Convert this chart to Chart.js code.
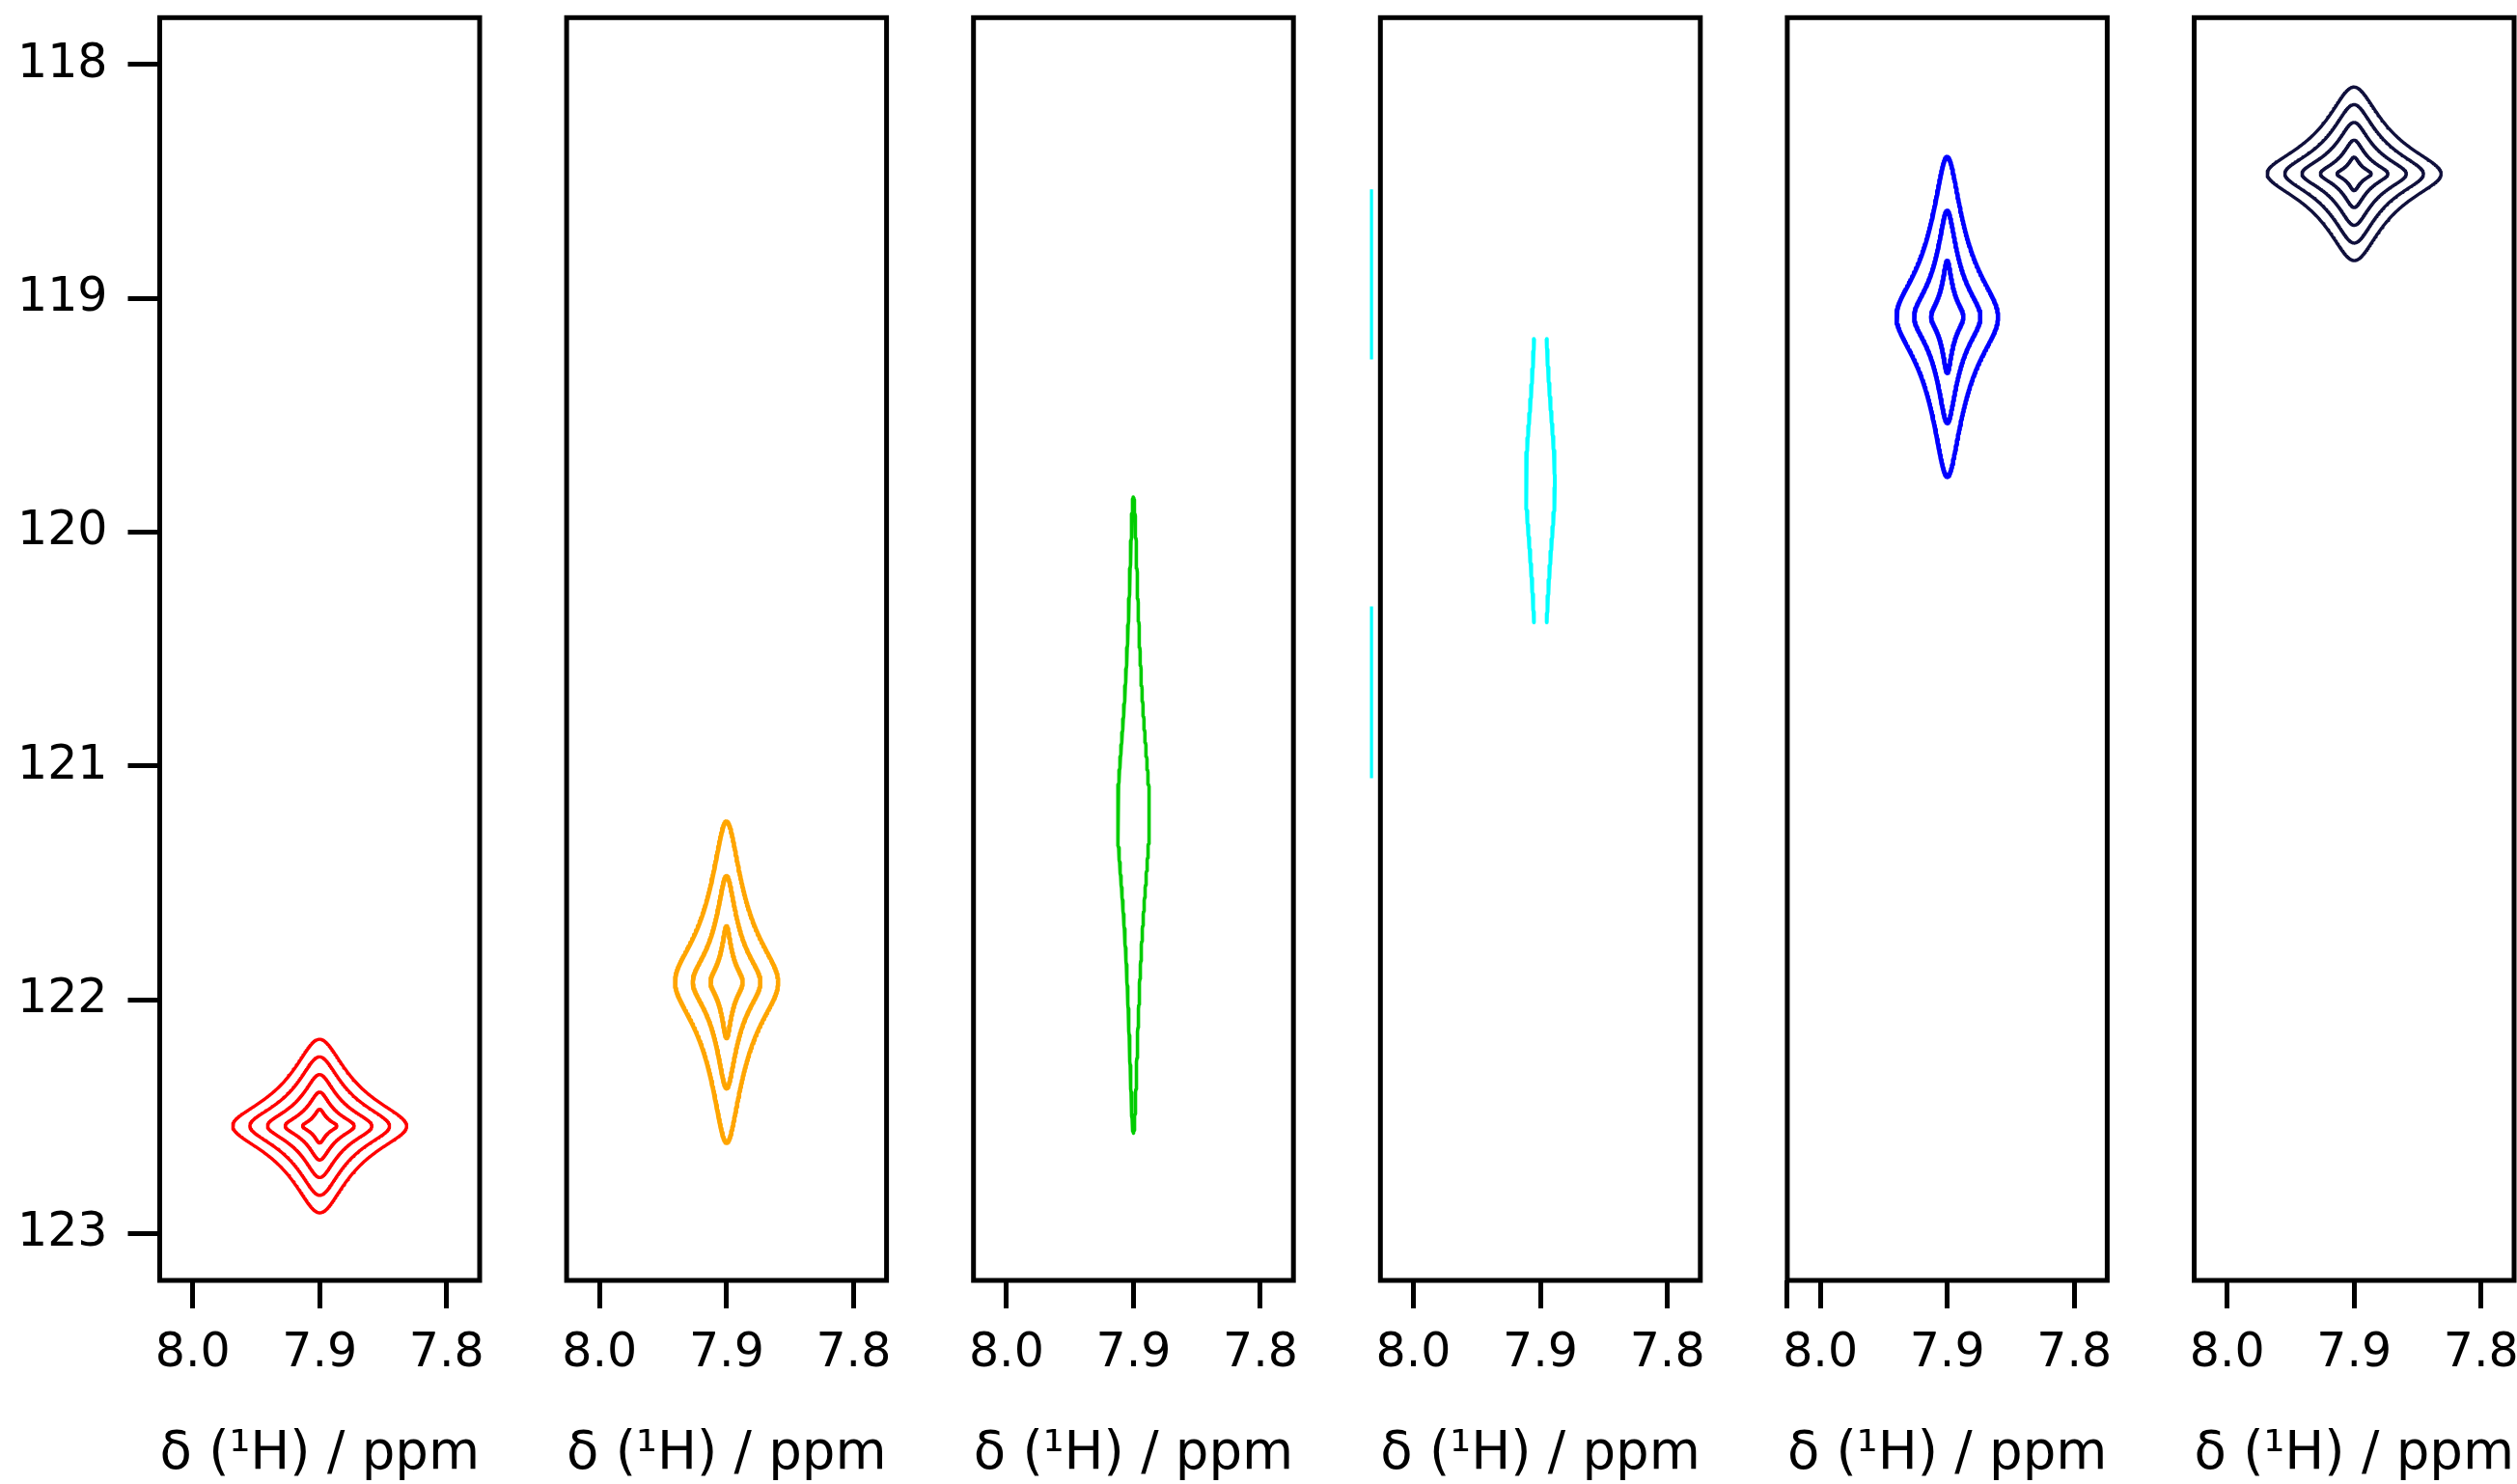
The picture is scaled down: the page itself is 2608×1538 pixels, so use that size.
<!DOCTYPE html>
<html>
<head>
<meta charset="utf-8">
<script src="https://cdn.jsdelivr.net/npm/chart.js@4/dist/chart.umd.min.js"></script>
<style>
html, body { margin: 0; padding: 0; background: #ffffff; overflow: hidden; width: 2608px; height: 1538px; }
canvas { position: absolute; top: 0; }
</style>
</head>
<body>
<script>
// ---------------- data ----------------
const hTickValues = [8.0, 7.9, 7.8];                 // 1H axis ticks (ppm)
const nTickValues = [118, 119, 120, 121, 122, 123];   // 15N axis ticks (ppm)
const hLimits = [7.774, 8.026];                       // 1H window (reversed axis)
const nLimits = [117.8, 123.2];                       // 15N window (reversed axis)

// one peak per panel
const peakH = [7.9, 7.9, 7.9, 7.9, 7.9, 7.9];
const peakN = [122.54, 121.925, 121.21, 119.78, 119.08, 118.468];
// half extents (ppm) of each drawn contour, outermost first
const contourHalfH = [
  [0.0685, 0.0550, 0.0411, 0.0272, 0.0135],
  [0.0406, 0.0266, 0.0127],
  [0.0125],
  [0.0114],
  [0.0400, 0.0261, 0.0127],
  [0.0685, 0.0546, 0.0411, 0.0266, 0.0135]
];
const contourHalfN = [
  [0.371, 0.296, 0.220, 0.145, 0.072],
  [0.687, 0.454, 0.239],
  [1.36],
  [1.24],
  [0.684, 0.454, 0.240],
  [0.371, 0.296, 0.220, 0.144, 0.0715]
];
// Lorentzian-product contour sharpness per peak
const lineshapeK = [14, 17, 14, 14, 17, 14];
// 15N half window in which the contour exists (null = whole contour)
const dataHalfWindowN = [null, null, null, 0.606, null, null];
// stray contour pieces left of the frame (panel 4)
const strayPieceH = [null, null, null, 8.033, null, null];
const strayPieceN = [[], [], [], [[118.534, 119.262], [120.318, 121.052]], [], []];
// extra unlabelled 1H tick
const strayTicks = [[], [], [], [], [8.026], []];

// ---------------- styles ----------------
const peakColors = ['#ff0000', '#ffa500', '#00cc00', '#00ffff', '#0000ff', '#10103c'];
const peakLineWidths = [3.4, 4.6, 3.6, 4.0, 4.6, 3.4];
const FONT = 'DejaVu Sans';

// ---------------- layout ----------------
const panelLeft0 = 165.5, panelStep = 421.6, panelWidth = 331.5;
const plotTop = 18.3, plotBottom = 1327, pageH = 1538;
const canvasW = 560, yAxisW = 150;

// ---------------- contour geometry ----------------
function closedContour(h0, n0, aH, bN, K) {
  const M = 120, norm = Math.sqrt(K - 1);
  const q = [];
  for (let i = 0; i <= M; i++) {
    const s = 0.5 - 0.5 * Math.cos(Math.PI * i / M);
    q.push([Math.sqrt(Math.pow(K, s) - 1) / norm, Math.sqrt(Math.pow(K, 1 - s) - 1) / norm]);
  }
  const pts = [];
  const push = (u, v) => pts.push({ x: h0 + aH * u, y: n0 + bN * v });
  for (let i = 0; i <= M; i++) push(q[i][0], -q[i][1]);
  for (let i = M - 1; i >= 0; i--) push(q[i][0], q[i][1]);
  for (let i = 1; i <= M; i++) push(-q[i][0], q[i][1]);
  for (let i = M - 1; i >= 0; i--) push(-q[i][0], -q[i][1]);
  return pts;
}
function windowedSides(h0, n0, aH, bN, K, win) {
  const M = 160, norm = Math.sqrt(K - 1);
  const sides = [[], []];
  for (let i = 0; i <= M; i++) {
    const dn = -win + 2 * win * i / M;
    const vr = (dn / bN) * norm;
    const u = Math.sqrt(Math.max(K / (1 + vr * vr) - 1, 0)) / norm;
    sides[0].push({ x: h0 + aH * u, y: n0 + dn });
    sides[1].push({ x: h0 - aH * u, y: n0 + dn });
  }
  return sides;
}

const framePlugin = {
  id: 'frame',
  afterDatasetsDraw(chart) {
    const { ctx, chartArea: a } = chart;
    ctx.save();
    ctx.strokeStyle = '#000';
    ctx.lineWidth = 5;
    ctx.lineJoin = 'miter';
    ctx.strokeRect(a.left, a.top, a.right - a.left, a.bottom - a.top);
    ctx.restore();
  }
};

function makePanel(i) {
  const plotLeft = panelLeft0 + i * panelStep;
  const cl = Math.round(plotLeft) - 170;
  const canvas = document.createElement('canvas');
  canvas.width = canvasW; canvas.height = pageH;
  canvas.style.left = cl + 'px';
  canvas.style.width = canvasW + 'px';
  canvas.style.height = pageH + 'px';
  document.body.appendChild(canvas);
  const hasY = i === 0;
  const padLeft = plotLeft - cl - (hasY ? yAxisW : 0);
  const padRight = canvasW - (plotLeft - cl) - panelWidth;

  const datasets = [];
  const color = peakColors[i], lw = peakLineWidths[i];
  contourHalfH[i].forEach((aH, k) => {
    const bN = contourHalfN[i][k];
    const lines = dataHalfWindowN[i] === null
      ? [closedContour(peakH[i], peakN[i], aH, bN, lineshapeK[i])]
      : windowedSides(peakH[i], peakN[i], aH, bN, lineshapeK[i], dataHalfWindowN[i]);
    lines.forEach(pts => datasets.push({
      data: pts, showLine: true, borderColor: color, borderWidth: lw,
      pointRadius: 0, fill: false, tension: 0, borderJoinStyle: 'round', borderCapStyle: 'butt'
    }));
  });
  strayPieceN[i].forEach(seg => datasets.push({
    data: [{ x: strayPieceH[i], y: seg[0] }, { x: strayPieceH[i], y: seg[1] }],
    showLine: true, borderColor: color, borderWidth: 3.2, pointRadius: 0, fill: false, clip: false
  }));

  const strays = strayTicks[i];
  new Chart(canvas, {
    type: 'scatter',
    data: { datasets },
    plugins: [framePlugin],
    options: {
      responsive: false, animation: false, devicePixelRatio: 1, events: [],
      layout: { padding: { left: padLeft, right: padRight, top: plotTop, bottom: 0 } },
      plugins: { legend: { display: false }, tooltip: { enabled: false } },
      scales: {
        x: {
          type: 'linear', position: 'bottom', reverse: true, bounds: 'data',
          afterDataLimits: s => { s.min = hLimits[0]; s.max = hLimits[1]; },
          afterBuildTicks: s => {
            s.ticks = hTickValues.concat(strays).map(v => ({ value: v }));
            s.min = hLimits[0]; s.max = hLimits[1];
          },
          afterFit: s => { s.height = pageH - plotBottom; s.paddingLeft = 0; s.paddingRight = 0; },
          grid: { display: true, drawOnChartArea: false, drawTicks: true, tickLength: 29, tickWidth: 5, tickColor: '#000' },
          border: { display: false },
          ticks: {
            autoSkip: false, maxRotation: 0, color: '#000', padding: 18,
            font: { family: FONT, size: 49 },
            callback: v => strays.includes(v) ? '' : v.toFixed(1)
          },
          title: { display: true, text: 'δ (¹H) / ppm', color: '#000', font: { family: FONT, size: 56 }, padding: { top: 0, bottom: -3 } }
        },
        y: {
          type: 'linear', position: 'left', reverse: true, display: hasY, bounds: 'data',
          afterDataLimits: s => { s.min = nLimits[0]; s.max = nLimits[1]; },
          afterBuildTicks: s => {
            s.ticks = nTickValues.map(v => ({ value: v }));
            s.min = nLimits[0]; s.max = nLimits[1];
          },
          afterFit: s => {
            s.width = hasY ? yAxisW : 0;
            s.paddingTop = 0; s.paddingBottom = 0;
          },
          grid: { display: true, drawOnChartArea: false, drawTicks: true, tickLength: 33, tickWidth: 5, tickColor: '#000' },
          border: { display: false },
          ticks: {
            autoSkip: false, color: '#000', padding: 21,
            font: { family: FONT, size: 49 },
            callback: v => String(v)
          }
        }
      }
    }
  });
}

for (let i = 0; i < 6; i++) makePanel(i);
</script>
</body>
</html>
